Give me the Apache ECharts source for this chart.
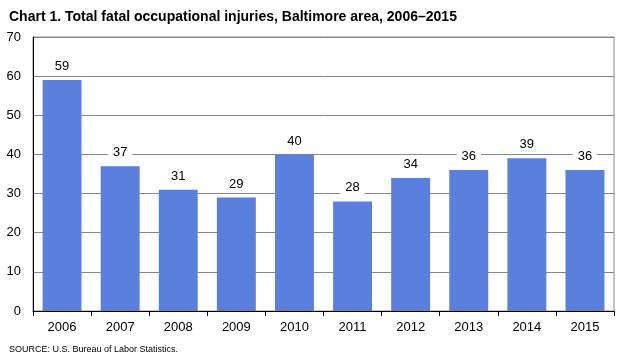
<!DOCTYPE html>
<html><head><meta charset="utf-8">
<script src="https://cdn.jsdelivr.net/npm/echarts@6/dist/echarts.min.js"></script>
<style>html,body{margin:0;padding:0;background:#fff}#c{width:623px;height:358px}</style>
</head><body><div id="c"></div>
<script>
const categories = ['2006','2007','2008','2009','2010','2011','2012','2013','2014','2015'];
const fatalities = [59,37,31,29,40,28,34,36,39,36];
const yTicks = [0,10,20,30,40,50,60,70];
const chart = echarts.init(document.getElementById('c'), null, {renderer:'canvas'});
chart.setOption({
  animation:false,
  backgroundColor:'#fff',
  title:[{text:'Chart 1. Total fatal occupational injuries, Baltimore area, 2006\u20132015',left:4,top:5,
    textStyle:{fontFamily:'Liberation Sans, Arial',fontWeight:'bold',fontSize:14,color:'#000'}},
    {text:'SOURCE: U.S. Bureau of Labor Statistics.',left:4,top:340,
    textStyle:{fontFamily:'Liberation Sans, Arial',fontWeight:'normal',fontSize:9,color:'#000'}}],
  grid:{left:33,right:9,top:37,bottom:47,show:true,borderColor:'#888',borderWidth:1},
  xAxis:{type:'category',data:categories,
    axisLine:{lineStyle:{color:'#000',width:1}},
    axisTick:{show:true,inside:false,length:5,lineStyle:{color:'#000'}},
    axisLabel:{fontFamily:'Liberation Sans, Arial',fontSize:13,color:'#000',margin:10}},
  yAxis:{type:'value',min:yTicks[0],max:yTicks[yTicks.length-1],interval:10,
    axisLine:{show:true,lineStyle:{color:'#000',width:1}},
    axisTick:{show:false},
    splitLine:{lineStyle:{color:'#888',width:1}},
    axisLabel:{fontFamily:'Liberation Sans, Arial',fontSize:13,color:'#000',margin:12}},
  series:[{type:'bar',data:fatalities,barCategoryGap:'33%',
    itemStyle:{color:'#5a7fdd'},
    label:{show:true,position:'top',distance:6,fontFamily:'Liberation Sans, Arial',fontSize:13,color:'#000',
      backgroundColor:'#fff',padding:[1,5,1,5]}}]
});
</script></body></html>
